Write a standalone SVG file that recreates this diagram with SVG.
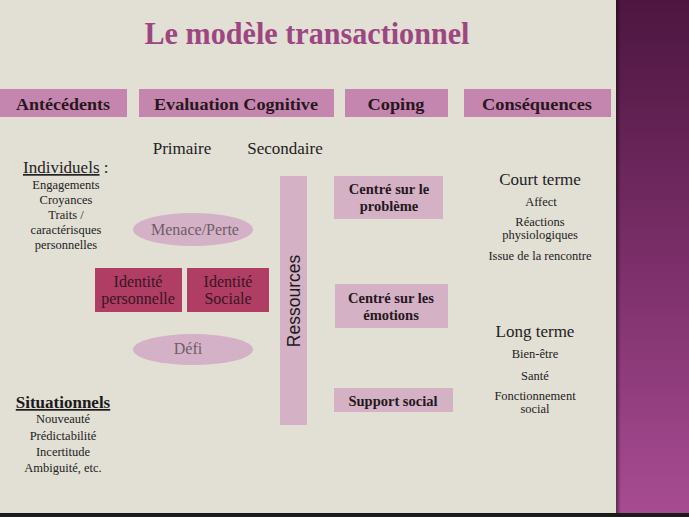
<svg xmlns="http://www.w3.org/2000/svg" width="689" height="517" viewBox="0 0 689 517">
<defs>
<linearGradient id="band" x1="0" y1="0" x2="0" y2="1">
<stop offset="0" stop-color="#4d1640"/>
<stop offset="0.5" stop-color="#7a2e68"/>
<stop offset="1" stop-color="#a84c92"/>
</linearGradient>
<linearGradient id="shade" x1="0" y1="0" x2="1" y2="0">
<stop offset="0" stop-color="#000" stop-opacity="0.45"/>
<stop offset="1" stop-color="#000" stop-opacity="0"/>
</linearGradient>
<style>
.serif{font-family:"Liberation Serif","Times New Roman",serif;}
.hdr{fill:#c486ae;}
.hdrt{font-family:"Liberation Serif",serif;font-weight:bold;font-size:17px;fill:#2a1620;text-anchor:middle;}
.pale{fill:#d4b1c5;}
.copt{font-family:"Liberation Serif",serif;font-weight:bold;font-size:14.5px;fill:#241820;text-anchor:middle;}
.ell{fill:#d5b1c7;}
.ellt{font-family:"Liberation Serif",serif;font-size:16px;fill:#6e5e68;text-anchor:middle;}
.idb{fill:#b03e64;}
.idt{font-family:"Liberation Serif",serif;font-size:16px;fill:#3a1424;text-anchor:middle;}
.sm{font-family:"Liberation Serif",serif;font-size:12.5px;fill:#222;text-anchor:middle;}
.med{font-family:"Liberation Serif",serif;font-size:17px;fill:#222;text-anchor:middle;}
</style>
</defs>
<rect x="0" y="0" width="689" height="517" fill="#e2dfd5"/>
<rect x="616" y="0" width="73" height="514" fill="url(#band)"/>
<rect x="616" y="0" width="5" height="514" fill="url(#shade)"/>
<rect x="0" y="513" width="689" height="4" fill="#1c1c1c"/>

<g id="title">
<text x="307" y="44" class="serif" font-size="31" font-weight="bold" fill="#9c4782" text-anchor="middle" textLength="325" lengthAdjust="spacingAndGlyphs">Le modèle transactionnel</text>
</g>

<g id="hdr-antecedents">
<rect class="hdr" x="0" y="89" width="127" height="28"/>
<text class="hdrt" x="63" y="110" textLength="94" lengthAdjust="spacingAndGlyphs">Antécédents</text>
</g>
<g id="hdr-evaluation">
<rect class="hdr" x="139" y="89" width="195" height="28"/>
<text class="hdrt" x="236" y="110" textLength="164" lengthAdjust="spacingAndGlyphs">Evaluation Cognitive</text>
</g>
<g id="hdr-coping">
<rect class="hdr" x="345" y="89" width="103" height="28"/>
<text class="hdrt" x="396" y="110" textLength="57" lengthAdjust="spacingAndGlyphs">Coping</text>
</g>
<g id="hdr-consequences">
<rect class="hdr" x="464" y="89" width="147" height="28"/>
<text class="hdrt" x="537" y="110" textLength="110" lengthAdjust="spacingAndGlyphs">Conséquences</text>
</g>

<g id="primaire"><text class="med" x="182" y="154">Primaire</text></g>
<g id="secondaire"><text class="med" x="285" y="154">Secondaire</text></g>

<g id="individuels">
<text x="23" y="173" class="serif" font-size="17" fill="#222"><tspan text-decoration="underline">Individuels</tspan> :</text>
<text class="sm" x="66" y="189">Engagements</text>
<text class="sm" x="66" y="204">Croyances</text>
<text class="sm" x="66" y="219">Traits /</text>
<text class="sm" x="66" y="234">caractérisques</text>
<text class="sm" x="66" y="249">personnelles</text>
</g>

<g id="situationnels">
<text x="63" y="408" class="serif" font-size="17" font-weight="bold" fill="#1a1a1a" text-anchor="middle" text-decoration="underline">Situationnels</text>
<text class="sm" x="63" y="423">Nouveauté</text>
<text class="sm" x="63" y="440">Prédictabilité</text>
<text class="sm" x="63" y="456">Incertitude</text>
<text class="sm" x="63" y="472">Ambiguité, etc.</text>
</g>

<g id="menace">
<ellipse class="ell" cx="193" cy="229.5" rx="60" ry="16.5"/>
<text class="ellt" x="195" y="235">Menace/Perte</text>
</g>
<g id="defi">
<ellipse class="ell" cx="193" cy="349.5" rx="60" ry="15.5"/>
<text class="ellt" x="188" y="354">Défi</text>
</g>

<g id="identite-personnelle">
<rect class="idb" x="95" y="268" width="87" height="44"/>
<text class="idt" x="138" y="287">Identité</text>
<text class="idt" x="138" y="304">personnelle</text>
</g>
<g id="identite-sociale">
<rect class="idb" x="187" y="268" width="82" height="44"/>
<text class="idt" x="228" y="287">Identité</text>
<text class="idt" x="228" y="304">Sociale</text>
</g>

<g id="ressources">
<rect class="pale" x="280" y="176" width="27" height="249"/>
<text x="0" y="0" transform="translate(300,301) rotate(-90)" font-family="Liberation Sans, Arial, sans-serif" font-size="17.5" fill="#1a1a1a" text-anchor="middle">Ressources</text>
</g>

<g id="coping-probleme">
<rect class="pale" x="334" y="176" width="109" height="43"/>
<text class="copt" x="389" y="194">Centré sur le</text>
<text class="copt" x="389" y="211">problème</text>
</g>
<g id="coping-emotions">
<rect class="pale" x="335" y="284" width="113" height="44"/>
<text class="copt" x="391" y="303">Centré sur les</text>
<text class="copt" x="391" y="320">émotions</text>
</g>
<g id="coping-support">
<rect class="pale" x="334" y="388" width="119" height="24"/>
<text class="copt" x="393" y="406">Support social</text>
</g>

<g id="court-terme">
<text class="med" x="540" y="185">Court terme</text>
<text class="sm" x="541" y="206">Affect</text>
<text class="sm" x="540" y="226">Réactions</text>
<text class="sm" x="540" y="239">physiologiques</text>
<text class="sm" x="540" y="260">Issue de la rencontre</text>
</g>
<g id="long-terme">
<text class="med" x="535" y="337">Long terme</text>
<text class="sm" x="535" y="358">Bien-être</text>
<text class="sm" x="535" y="380">Santé</text>
<text class="sm" x="535" y="400">Fonctionnement</text>
<text class="sm" x="535" y="413">social</text>
</g>

<g id="connectors"/>
</svg>
